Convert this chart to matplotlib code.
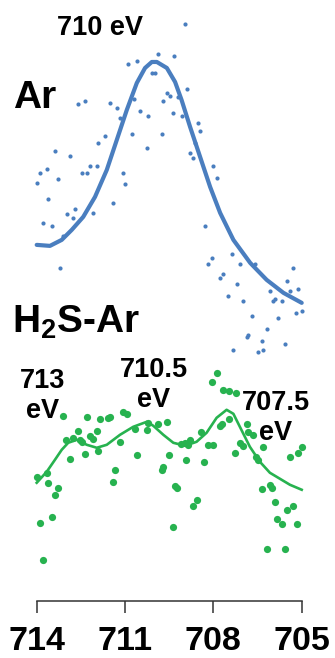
import matplotlib
matplotlib.use('Agg')
import matplotlib.pyplot as plt

plt.rcParams['font.family'] = ['Liberation Sans', 'DejaVu Sans']
plt.rcParams['font.weight'] = 'bold'
plt.rcParams['mathtext.fontset'] = 'custom'
plt.rcParams['mathtext.rm'] = 'Liberation Sans:bold'
plt.rcParams['mathtext.bf'] = 'Liberation Sans:bold'
plt.rcParams['mathtext.default'] = 'bf'

# Fe 2p3/2 region, binding energy (eV) vs intensity (a.u., stacked)
ar_energy = [714.00, 713.89, 713.78, 713.66, 713.61, 713.49, 713.38, 713.27, 713.21, 713.10,
             712.98, 712.87, 712.76, 712.70, 712.59, 712.47, 712.36, 712.30, 712.19, 712.08,
             711.96, 711.91, 711.68, 711.51, 711.40, 711.28, 711.17, 711.06, 711.00, 710.89,
             710.77, 710.69, 710.60, 710.49, 710.26, 710.21, 710.09, 709.98, 709.87, 709.75,
             709.70, 709.58, 709.47, 709.36, 709.33, 709.19, 709.08, 708.96, 708.91, 708.79,
             708.68, 708.62, 708.51, 708.45, 708.28, 708.17, 708.06, 708.00, 707.89, 707.77,
             707.66, 707.49, 707.38, 707.32, 707.21, 707.10, 706.98, 706.87, 706.81, 706.70,
             706.59, 706.47, 706.36, 706.31, 706.19, 706.08, 705.96, 705.91, 705.79, 705.68,
             705.57, 705.51, 705.41, 705.29, 705.14, 705.18, 705.00]
ar_counts = [418, 428, 378, 432, 402, 375, 450, 422, 333, 365,
             387, 445, 383, 392, 497, 428, 500, 428, 435, 388,
             435, 458, 465, 498, 398, 493, 483, 428, 417, 537,
             467, 502, 540, 490, 453, 485, 528, 528, 547, 467,
             500, 508, 505, 488, 545, 504, 485, 577, 512, 448,
             443, 458, 478, 470, 375, 337, 343, 435, 423, 323,
             327, 305, 347, 251, 317, 337, 300, 264, 266, 285,
             337, 249, 260, 251, 272, 310, 300, 302, 283, 300,
             257, 320, 310, 333, 312, 288, 290]

ar_fit_energy = [714.00, 713.55, 713.15, 712.81, 712.42, 712.02, 711.62, 711.28, 710.94, 710.60,
                 710.32, 710.09, 709.92, 709.58, 709.30, 709.08, 708.79, 708.45, 708.11, 707.77,
                 707.32, 706.75, 706.19, 705.62, 705.00]
ar_fit_counts = [356, 355, 361, 371, 384, 404, 431, 461, 491, 518,
                 533, 539, 539, 533, 519, 501, 474, 444, 414, 388,
                 361, 338, 321, 308, 298]

h2s_energy = [714.00, 713.89, 713.78, 713.66, 713.61, 713.49, 713.38, 713.27, 713.12, 713.00,
              712.87, 712.76, 712.59, 712.53, 712.47, 712.36, 712.30, 712.19, 712.08, 711.96,
              711.91, 711.85, 711.57, 711.51, 711.40, 711.34, 711.17, 711.08, 710.94, 710.66,
              710.60, 710.26, 710.21, 709.87, 709.75, 709.70, 709.58, 709.49, 709.36, 709.30,
              709.22, 709.10, 708.96, 708.85, 708.79, 708.92, 708.68, 708.57, 708.43, 708.33,
              708.17, 708.00, 708.06, 707.89, 707.66, 707.46, 707.24, 707.77, 707.69, 707.47,
              707.27, 707.10, 706.98, 706.87, 706.81, 706.64, 706.55, 706.47, 706.30, 706.36,
              706.08, 706.02, 705.91, 705.85, 705.68, 705.51, 705.29, 705.17, 706.19, 705.57,
              705.40, 705.12, 705.00]
h2s_counts = [124, 78, 41, 128, 118, 84, 106, 113, 185, 161,
              142, 163, 170, 161, 159, 147, 184, 165, 162, 170,
              150, 182, 183, 184, 119, 131, 159, 189, 187, 172,
              146, 171, 178, 177, 131, 134, 179, 146, 74, 115,
              113, 157, 158, 156, 161, 141, 95, 101, 169, 139,
              156, 156, 219, 228, 211, 210, 208, 175, 177, 182,
              148, 158, 155, 177, 169, 166, 144, 141, 154, 112,
              116, 113, 99, 82, 77, 91, 95, 77, 52, 52,
              144, 148, 154]

h2s_fit_energy = [714.00, 713.66, 713.38, 713.15, 712.93, 712.64, 712.30, 711.96, 711.62, 711.17,
                  710.72, 710.26, 710.04, 709.70, 709.36, 708.96, 708.57, 708.23, 707.89, 707.55,
                  707.32, 707.10, 706.76, 706.42, 706.08, 705.74, 705.40, 705.00]
h2s_fit_counts = [118, 129, 141, 151, 158, 161, 156, 153, 156, 166,
                  174, 179, 175, 166, 158, 155, 159, 168, 183, 191,
                  187, 174, 154, 139, 128, 122, 116, 111]

energy_ticks = [714, 711, 708, 705]

blue = '#4a7ebf'
green = '#27b24f'

fig = plt.figure(figsize=(3.35, 6.58), dpi=100)
ax = fig.add_axes([36.7 / 335, 57.3 / 658, 265 / 335, 600.7 / 658])

ax.plot(ar_energy, ar_counts, 'o', color=blue, ms=3.0, mew=0, clip_on=False)
ax.plot(ar_fit_energy, ar_fit_counts, '-', color=blue, lw=3.0, clip_on=False,
        solid_capstyle='round', solid_joinstyle='round')
ax.plot(h2s_energy, h2s_counts, 'o', color=green, ms=5.2, mew=0, clip_on=False)
ax.plot(h2s_fit_energy, h2s_fit_counts, '-', color=green, lw=1.9, clip_on=False,
        solid_joinstyle='round')

ax.set_xlim(714, 705)
ax.set_ylim(0, 601)
ax.set_xticks(energy_ticks)
ax.set_xticklabels([str(t) for t in energy_ticks], fontsize=24.5, fontweight='bold')
ax.set_yticks([])
for side in ['top', 'left', 'right']:
    ax.spines[side].set_visible(False)
ax.spines['bottom'].set_color('#333333')
ax.spines['bottom'].set_linewidth(1.1)
ax.tick_params(axis='x', length=8.6, width=1.1, color='#333333', pad=9.5)
ax.patch.set_alpha(0)

# sample labels
ax.text(714.80, 493, 'Ar', fontsize=28, fontweight='bold', ha='left', va='baseline')
ax.text(714.84, 268, 'H$_2$S-Ar', fontsize=28, fontweight='bold', ha='left', va='baseline')

# peak positions (baseline of the "eV" line)
ax.text(711.86, 566, '710 eV', fontsize=19.5, fontweight='bold', ha='center', va='baseline')
ax.text(713.79, 183, '713\neV', fontsize=19.5, fontweight='bold', ha='center',
        va='baseline', multialignment='center')
ax.text(710.02, 194, '710.5\neV', fontsize=19.5, fontweight='bold', ha='center',
        va='baseline', multialignment='center')
ax.text(705.89, 161, '707.5\neV', fontsize=19.5, fontweight='bold', ha='center',
        va='baseline', multialignment='center')

fig.savefig('out.png', dpi=100)
